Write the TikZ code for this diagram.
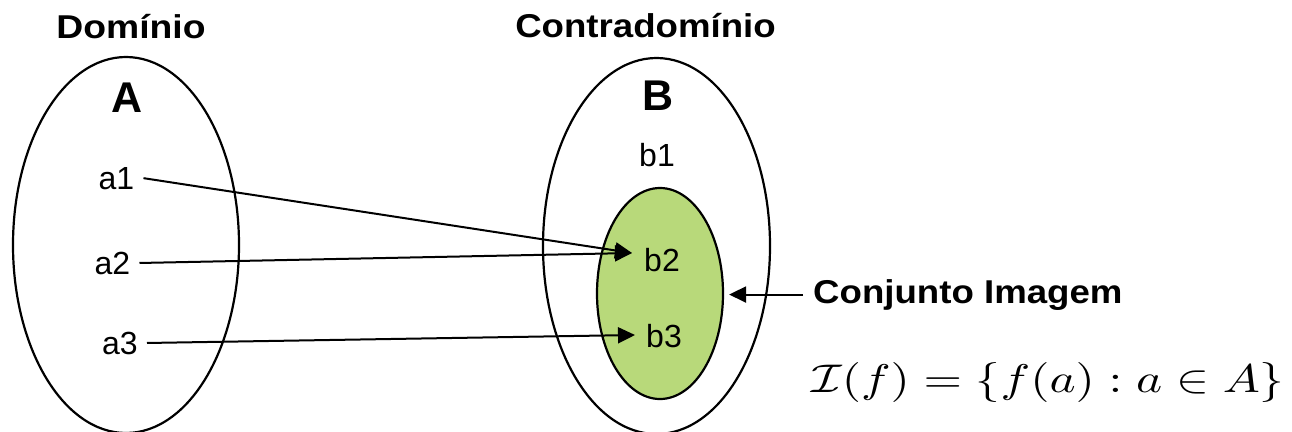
\documentclass[tikz,border=0pt]{standalone}
\usepackage{fontspec}
\setmainfont{Liberation Sans}
\usepackage{graphicx}
\usetikzlibrary{shapes.geometric,arrows.meta}
\definecolor{imggreen}{RGB}{184,217,122}
\begin{document}
\begin{tikzpicture}[x=1pt,y=-1pt,
  setline/.style={line width=2.2pt},
  hdr/.style={font=\fontsize{33}{38}\selectfont\bfseries, inner sep=0pt, anchor=base},
  setname/.style={font=\fontsize{43}{50}\selectfont\bfseries, inner sep=0pt, anchor=base},
  elem/.style={font=\fontsize{32}{36}\selectfont, inner xsep=9pt, inner ysep=0pt, anchor=base},
  maparrow/.style={line width=2pt, -{Triangle[length=17pt,width=16pt]}},
]
\useasboundingbox (0,0) rectangle (1292,431);
% sets
\node[ellipse, draw, setline, minimum width=226pt, minimum height=376pt, inner sep=0pt] (EA) at (126,245) {};
\node[ellipse, draw, setline, minimum width=227pt, minimum height=376pt, inner sep=0pt] (EB) at (656.5,246) {};
\node[ellipse, draw, setline, fill=imggreen, minimum width=126pt, minimum height=211pt, inner sep=0pt] (G) at (660,293.5) {};
% headers
\node[hdr] (dom) at (131,38) {\scalebox{1.13}[1]{Domínio}};
\node[hdr] (cdom) at (645.5,37) {\scalebox{1.11}[1]{Contradomínio}};
\node[setname] (A) at (127,112) {A};
\node[setname] (B) at (658,110) {B};
% elements
\node[elem] (a1) at (116.5,189) {a1};
\node[elem] (a2) at (112.5,274) {a2};
\node[elem] (a3) at (120,354) {a3};
\node[elem] (b1) at (657,166) {b1};
\node[elem] (b2) at (662,271) {b2};
\node[elem] (b3) at (664,347) {b3};
\coordinate (t2) at (632,253);
\coordinate (t3) at (635,335);
% mapping arrows
\draw[maparrow] (a1.east) -- (t2);
\draw[maparrow] (a2.east) -- (t2);
\draw[maparrow] (a3.east) -- (t3);
% image label
\node[font=\fontsize{33}{38}\selectfont\bfseries, inner xsep=10pt, inner ysep=0pt, anchor=base west] (ci) at (803,303) {\scalebox{1.11}[1]{Conjunto Imagem}};
\draw[maparrow, shorten >=5pt] (ci.west) -- (ci.west -| G.east);
\node[inner sep=0pt, anchor=base] (formula) at (1048,392) {\scalebox{4.95}[4.0]{$\mathcal{I}(f) = \{f(a) : a \in A\}$}};
\end{tikzpicture}
\end{document}
